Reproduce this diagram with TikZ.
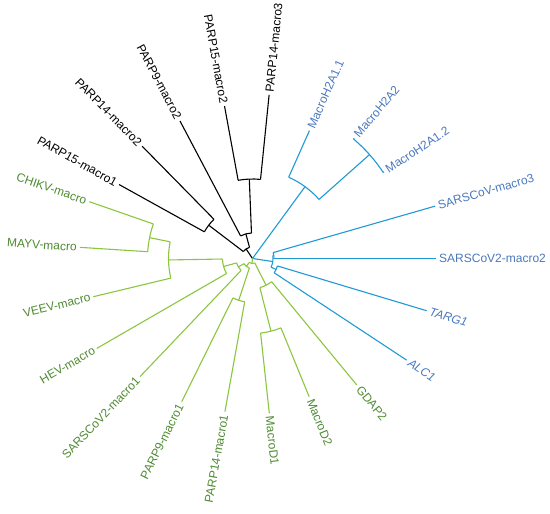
\documentclass[tikz,border=0pt]{standalone}
\usepackage{fontspec}
\setmainfont{Liberation Sans}
\usetikzlibrary{calc}
\definecolor{treeblue}{HTML}{1E9AD4}
\definecolor{textblue}{HTML}{4A78BC}
\definecolor{treegreen}{HTML}{8CC63F}
\definecolor{textgreen}{HTML}{4E8A30}
\tikzset{
  kline/.style={line width=1.1pt, black},
  bline/.style={line width=1.1pt, treeblue},
  gline/.style={line width=1.1pt, treegreen},
  lbl/.style={font=\fontsize{12}{14}\selectfont, inner xsep=3pt, inner ysep=1pt},
  lblR/.style={lbl, anchor=west},
  lblL/.style={lbl, anchor=east}
}
% radial branch: name, angle, radius of parent, radius of node
\def\branch[#1](#2)(#3:#4:#5){\coordinate (#2-b) at (#3:#4); \coordinate (#2) at (#3:#5); \draw[#1] (#2-b) -- (#2);}

\begin{document}
\begin{tikzpicture}[x=1pt,y=1pt]
			\useasboundingbox (-252.5,-255.5) rectangle (297.5,258.5);
			%%%%% BLACK %%%%%
			
			\branch[kline](kpa)(123.9:0:11.5)
			\branch[kline](k1)(142.75:11.5:55)
			\branch[kline](k2)(105.05:11.5:25.5)
			\draw[kline] (k1-b) arc (142.75:105.05:11.5);
			
			\branch[kline](p15m1)(151:55:152.6)
			\branch[kline](p14m2)(134.5:55:157.5)
			\draw[kline] (p15m1-b) arc (151:134.5:55);
			
			\branch[kline](p9m2)(117.8:25.5:155.5)
			\branch[kline](k3)(92.3:25.5:79.5)
			\draw[kline] (p9m2-b) arc (117.8:92.3:25.5);
			
			\branch[kline](p15m2)(100.4:79.5:155)
			\branch[kline](p14m3)(84.2:79.5:164.4)
			\draw[kline] (p15m2-b) arc (100.4:84.2:79.5);
			
			\node[lblL, rotate=-29] (l-p15m1) at (p15m1) {PARP15-macro1};
			\node[lblL, rotate=-45.5] (l-p14m2) at (p14m2) {PARP14-macro2};
			\node[lblL, rotate=-62.2] (l-p9m2) at (p9m2) {PARP9-macro2};
			\node[lblL, rotate=-79.6] (l-p15m2) at (p15m2) {PARP15-macro2};
			\node[lblR, rotate=84.2] (l-p14m3) at (p14m3) {PARP14-macro3};
			
			%%%%% BLUE %%%%%
			
			\branch[bline](bl)(22.65:0:1)
			\branch[bline](h2a)(53.8:1:89)
			\branch[bline](sv)(-8.5:1:20.5)
			\draw[bline] (h2a-b) arc (53.8:-8.5:1);
			
			\branch[bline](h2a11)(66:89:140)
			\branch[bline](h2b)(41.6:89:156.5)
			\draw[bline] (h2a11-b) arc (66:41.6:89);
			\branch[bline](h2a2)(49.8:156.5:157.5)
			\branch[bline](h2a12)(33.4:156.5:157.5)
			\draw[bline] (h2a2-b) arc (49.8:33.4:156.5);
			
			\branch[bline](svx)(8:20.5:21.5)
			\branch[bline](tg)(-25:20.5:26)
			\draw[bline] (svx-b) arc (8:-25:20.5);
			\branch[bline](sars3)(16:21.5:190)
			\branch[bline](sars2m2)(0:21.5:183.5)
			\draw[bline] (sars3-b) arc (16:0:21.5);
			\branch[bline](targ1)(-16.7:26:181.8)
			\branch[bline](alc1)(-33.4:26:184.6)
			\draw[bline] (targ1-b) arc (-16.7:-33.4:26);
			
			\node[lblR, rotate=66, textblue] (l-h2a11) at (h2a11) {MacroH2A1.1};
			\node[lblR, rotate=49.8, textblue] (l-h2a2) at (h2a2) {MacroH2A2};
			\node[lblR, rotate=33.4, textblue] (l-h2a12) at (h2a12) {MacroH2A1.2};
			\node[lblR, rotate=16, textblue] (l-sars3) at (sars3) {SARSCoV-macro3};
			\node[lblR, textblue] (l-sars2m2) at (sars2m2) {SARSCoV2-macro2};
			\node[lblR, rotate=-16.7, textblue] (l-targ1) at (targ1) {\itshape TARG1};
			\node[lblR, rotate=-33.4, textblue] (l-alc1) at (alc1) {\itshape ALC1};
			
			%%%%% GREEN %%%%%
			
			\branch[gline](gr)(264.1:0:5)
			\branch[gline](g4)(231.35:5:10)
			\branch[gline](mdg)(296.9:5:30)
			\draw[gline] (g4-b) arc (231.35:296.9:5);
			
			\branch[gline](g3)(210.95:10:16.5)
			\branch[gline](p9p14)(251.75:10:44)
			\draw[gline] (g3-b) arc (210.95:251.75:10);
			
			\branch[gline](g1)(195.5:16.5:30)
			\branch[gline](sars2m1)(226.4:16.5:163.2)
			\draw[gline] (g1-b) arc (195.5:226.4:16.5);
			
			\branch[gline](alpha)(181:30:84)
			\branch[gline](hev)(210:30:179.8)
			\draw[gline] (alpha-b) arc (181:210:30);
			\branch[gline](chm)(168.55:84:105)
			\branch[gline](veev)(193.5:84:163.7)
			\draw[gline] (chm-b) arc (168.55:193.5:84);
			\branch[gline](chikv)(160.8:105:172.8)
			\branch[gline](mayv)(176.3:105:172.9)
			\draw[gline] (chikv-b) arc (160.8:176.3:105);
			
			\branch[gline](p9m1)(243.7:44:159.7)
			\branch[gline](p14m1)(259.8:44:155.6)
			\draw[gline] (p9m1-b) arc (243.7:259.8:44);
			
			\branch[gline](md)(284.25:30:75)
			\branch[gline](gdap2)(309.5:30:163.9)
			\draw[gline] (md-b) arc (284.25:309.5:30);
			\branch[gline](macd1)(276.2:75:155.7)
			\branch[gline](macd2)(292.3:75:149.4)
			\draw[gline] (macd1-b) arc (276.2:292.3:75);
			
			\node[lblL, rotate=-19.2, textgreen] (l-chikv) at (chikv) {CHIKV-macro};
			\node[lblL, rotate=-3.7, textgreen] (l-mayv) at (mayv) {MAYV-macro};
			\node[lblL, rotate=13.5, textgreen] (l-veev) at (veev) {VEEV-macro};
			\node[lblL, rotate=30, textgreen] (l-hev) at (hev) {HEV-macro};
			\node[lblL, rotate=46.4, textgreen] (l-sars2m1) at (sars2m1) {SARSCoV2-macro1};
			\node[lblL, rotate=63.7, textgreen] (l-p9m1) at (p9m1) {PARP9-macro1};
			\node[lblL, rotate=79.8, textgreen] (l-p14m1) at (p14m1) {PARP14-macro1};
			\node[lblR, rotate=-83.8, textgreen] (l-macd1) at (macd1) {MacroD1};
			\node[lblR, rotate=-67.7, textgreen] (l-macd2) at (macd2) {MacroD2};
			\node[lblR, rotate=-50.5, textgreen] (l-gdap2) at (gdap2) {GDAP2};
			
			%%%%% END %%%%%
\end{tikzpicture}
\end{document}
